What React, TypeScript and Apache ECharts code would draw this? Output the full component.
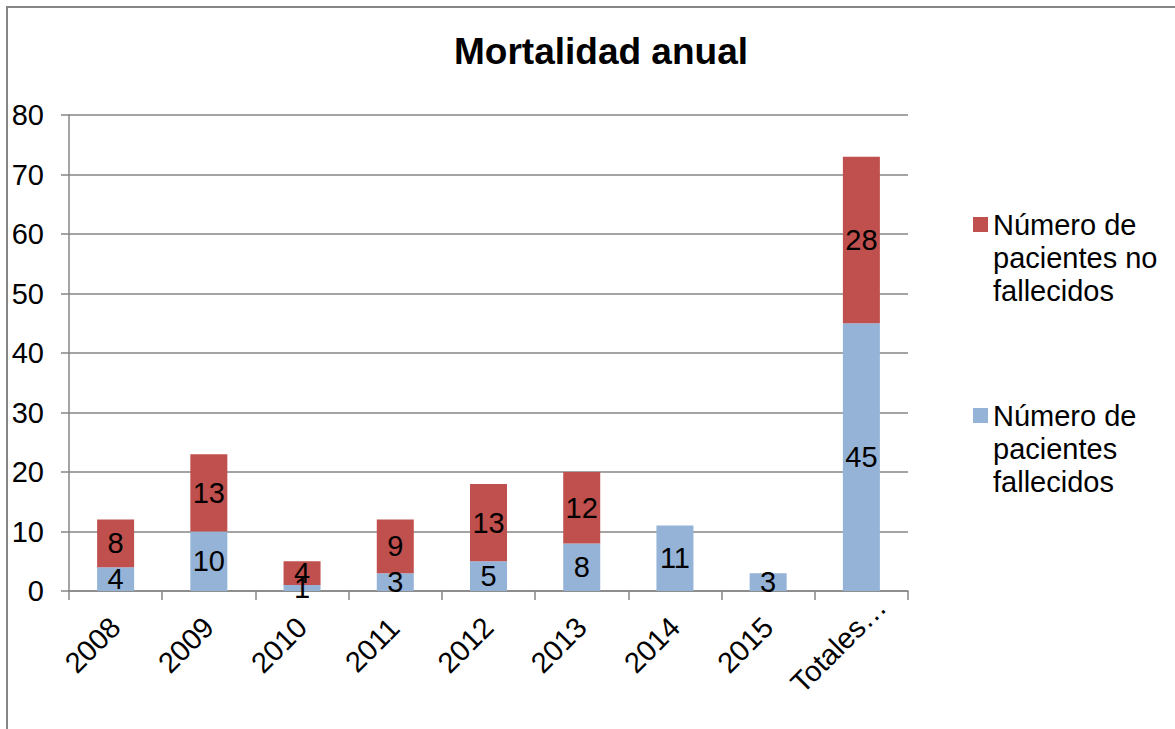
import { useEffect, useRef } from "react";
import * as echarts from "echarts";

// Annual mortality: deceased vs. surviving patients per year, plus totals
const categories = ["2008", "2009", "2010", "2011", "2012", "2013", "2014", "2015", "Totales…"];
const fallecidos = [4, 10, 1, 3, 5, 8, 11, 3, 45];
const noFallecidos: (number | null)[] = [8, 13, 4, 9, 13, 12, null, null, 28];

const SERIE_FALLECIDOS = "Número de pacientes fallecidos";
const SERIE_NO_FALLECIDOS = "Número de pacientes no fallecidos";

// Legend names as they wrap in the legend column. Two blank lines lead each
// entry so the first line sits level with the swatch (legend text is centred).
const legendLines: Record<string, string> = {
  [SERIE_NO_FALLECIDOS]: " \n \nNúmero de\npacientes no\nfallecidos",
  [SERIE_FALLECIDOS]: " \n \nNúmero de\npacientes\nfallecidos",
};

const FONT = "'Liberation Sans', Arial, Helvetica, sans-serif";
const GRAY = "#868686";
const BLUE = "#95B3D7";
const RED = "#C0504D";
const FS = 29;

export default function App() {
  const ref = useRef<HTMLDivElement>(null);

  useEffect(() => {
    if (!ref.current) return;
    const chart = echarts.init(ref.current, undefined, { renderer: "svg" });

    const label = {
      show: true,
      position: "inside" as const,
      color: "#000",
      fontSize: FS,
      fontFamily: FONT,
      formatter: (p: any) => (p.value == null || p.value === 0 ? "" : String(p.value)),
    };

    chart.setOption({
      animation: false,
      backgroundColor: "#fff",
      textStyle: { fontFamily: FONT },
      title: {
        text: "Mortalidad anual",
        left: 596,
        top: 28,
        textAlign: "center",
        textStyle: { fontSize: 37, fontWeight: "bold", color: "#000", fontFamily: FONT },
      },
      graphic: [
        {
          type: "rect",
          shape: { x: 7, y: 7, width: 1300, height: 900 },
          style: { fill: "none", stroke: GRAY, lineWidth: 2 },
          silent: true,
        },
      ],
      legend: {
        orient: "vertical",
        left: 968,
        top: 137,
        itemWidth: 15,
        itemHeight: 15,
        itemGap: 26,
        icon: "rect",
        selectedMode: false,
        data: [SERIE_NO_FALLECIDOS, SERIE_FALLECIDOS],
        formatter: (name: string) => legendLines[name] ?? name,
        textStyle: {
          fontSize: FS,
          lineHeight: 33,
          color: "#000",
          fontFamily: FONT,
        },
      },
      grid: { left: 69, right: 267, top: 115, bottom: 138, containLabel: false },
      xAxis: {
        type: "category",
        data: categories,
        axisLine: { lineStyle: { color: GRAY, width: 1.5 } },
        axisTick: { show: true, length: 9, lineStyle: { color: GRAY, width: 1.5 } },
        axisLabel: {
          interval: 0,
          rotate: 45,
          align: "center",
          verticalAlign: "middle",
          margin: 31,
          padding: [0, 65, 0, 0],
          fontSize: FS,
          color: "#000",
          fontFamily: FONT,
        },
      },
      yAxis: {
        type: "value",
        min: 0,
        max: 80,
        interval: 10,
        axisLine: { show: true, lineStyle: { color: GRAY, width: 1.5 } },
        axisTick: { show: true, length: 8, lineStyle: { color: GRAY, width: 1.5 } },
        splitLine: { show: true, lineStyle: { color: GRAY, width: 1.5 } },
        axisLabel: { margin: 25, fontSize: FS, color: "#000", fontFamily: FONT },
      },
      series: [
        {
          name: SERIE_FALLECIDOS,
          type: "bar",
          stack: "total",
          barWidth: 37,
          data: fallecidos,
          itemStyle: { color: BLUE },
          label,
        },
        {
          name: SERIE_NO_FALLECIDOS,
          type: "bar",
          stack: "total",
          barWidth: 37,
          data: noFallecidos,
          itemStyle: { color: RED },
          label,
        },
      ],
    });

    return () => chart.dispose();
  }, []);

  return (
    <div
      ref={ref}
      style={{ position: "fixed", left: 0, top: 0, width: 1175, height: 729 }}
    />
  );
}
